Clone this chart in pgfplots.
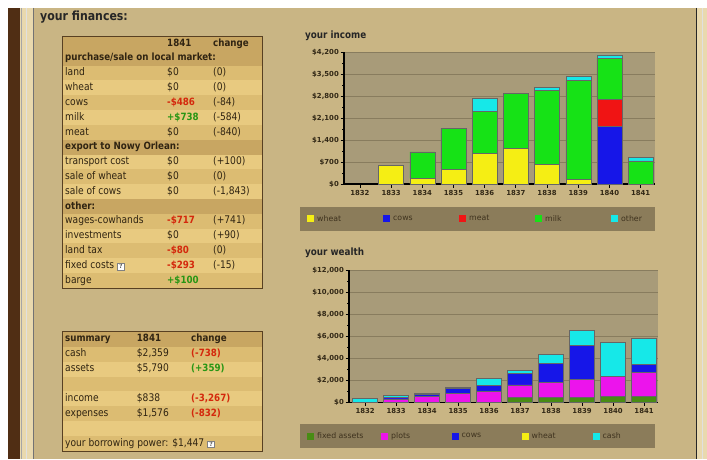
\documentclass[border=0pt]{standalone}
\usepackage{pgfplots}
\usepackage{pgfplotstable}
\pgfplotsset{compat=1.18}
\usepackage{fontspec}
\setmainfont{DejaVu Sans}[FakeStretch=0.87]
\newfontfamily\chartfont{DejaVu Sans}
\definecolor{pagebg}{RGB}{201,181,132}
\definecolor{plotbg}{RGB}{168,155,121}
\definecolor{gridc}{RGB}{136,124,94}
\definecolor{legbg}{RGB}{139,124,90}
\definecolor{legtxt}{RGB}{62,50,30}
\definecolor{hdr}{RGB}{200,166,98}
\definecolor{rowl}{RGB}{232,202,128}
\definecolor{rowd}{RGB}{220,188,114}
\definecolor{tborder}{RGB}{88,64,34}
\definecolor{txt}{RGB}{48,36,18}
\definecolor{tick}{RGB}{50,40,22}
\definecolor{negred}{RGB}{212,40,12}
\definecolor{posgreen}{RGB}{40,150,20}
\definecolor{cwheat}{RGB}{245,238,20}
\definecolor{ccows}{RGB}{22,22,232}
\definecolor{cmeat}{RGB}{240,20,20}
\definecolor{cmilk}{RGB}{22,226,22}
\definecolor{cother}{RGB}{22,232,232}
\definecolor{cfixed}{RGB}{72,140,20}
\definecolor{cplots}{RGB}{236,20,236}
\definecolor{darkstrip}{RGB}{80,46,20}
\definecolor{lightstrip}{RGB}{233,217,174}

\pgfplotstableread{
year wheat cows meat milk other
1832 0 0 0 0 0
1833 600 0 0 0 0
1834 180 0 0 840 0
1835 465 0 0 1315 0
1836 975 0 0 1335 415
1837 1135 0 0 1750 0
1838 625 0 0 2355 95
1839 140 0 0 3160 125
1840 0 1843 840 1322 100
1841 0 0 0 738 100
}\income

\pgfplotstableread{
year fixed plots cows wheat cash
1832 0 0 0 0 360
1833 0 300 180 0 170
1834 0 510 180 0 150
1835 0 815 450 0 60
1836 0 960 580 0 630
1837 420 1150 1030 0 270
1838 420 1420 1720 0 790
1839 420 1660 3110 0 1330
1840 510 1830 0 0 3100
1841 510 2200 720 0 2360
}\wealth

\pgfplotsset{
  sqlegend/.style={legend image code/.code={\fill[##1,draw=none] (0pt,-3.5pt) rectangle (7pt,3.5pt);}},
  mychart/.style={
    anchor=south west, scale only axis,
    ybar stacked, bar width=25pt,
    axis lines*=left,
    axis line style={black,line width=1.3pt},
    axis background/.style={fill=plotbg},
    ymajorgrids, major grid style={gridc,line width=0.7pt},
    tick align=outside, major tick length=3.5pt, minor tick length=2pt,
    tick style={black,line width=0.8pt},
    minor y tick num=1,
    scaled y ticks=false,
    xtick={1832,1833,1834,1835,1836,1837,1838,1839,1840,1841},
    xticklabels={1832,1833,1834,1835,1836,1837,1838,1839,1840,1841},
    yticklabel={\$\pgfmathprintnumber{\tick}},
    /pgf/number format/fixed, /pgf/number format/precision=0,
    /pgf/number format/1000 sep={,}, /pgf/number format/assume math mode=true,
    ticklabel style={font=\chartfont\fontsize{6.9}{7.5}\selectfont\bfseries,text=tick},
    yticklabel style={inner sep=1.5pt},
    xticklabel style={inner sep=2.5pt},
    every axis plot/.append style={draw=black!60,line width=0.5pt},
    every axis plot post/.append style={sqlegend},
    legend columns=5, legend cell align=left,
    legend style={anchor=north west, draw=none, fill=legbg,
      inner xsep=7pt, inner ysep=7pt,
      font=\chartfont\fontsize{7.8}{8}\selectfont, text=legtxt,
      /tikz/every odd column/.append style={column sep=2pt},
      nodes={inner sep=1pt}},
  }
}

\newcommand\qbox{{\setlength\fboxsep{0.6pt}\setlength\fboxrule{0.5pt}\raisebox{-0.5pt}{\fcolorbox{black!50}{white}{\makebox[5.5pt]{\chartfont\fontsize{6}{6}\selectfont\bfseries\color{black!60}?}}}}}
\newcommand\bft{\fontsize{10}{12}\selectfont\bfseries}
\newcommand\negv[1]{\textcolor{negred}{\bft #1}}
\newcommand\posv[1]{\textcolor{posgreen}{\bft #1}}
% table 1 row: index, fill, label, value, change
\newcommand\TA[5]{%
  \fill[#2] (62,{50.7+(#1-2)*14.83}) rectangle (262,{50.7+(#1-1)*14.83});
  \node[anchor=mid west] at (65,{50.7+(#1-1.5)*14.83}) {#3};
  \node[anchor=mid west] at (167,{50.7+(#1-1.5)*14.83}) {#4};
  \node[anchor=mid west] at (213,{50.7+(#1-1.5)*14.83}) {#5};}
\newcommand\TB[5]{%
  \fill[#2] (62,{346.7+(#1-1)*14.9}) rectangle (262,{346.7+#1*14.9});
  \node[anchor=mid west] at (65,{346.7+(#1-0.5)*14.9}) {#3};
  \node[anchor=mid west] at (136.7,{346.7+(#1-0.5)*14.9}) {#4};
  \node[anchor=mid west] at (191,{346.7+(#1-0.5)*14.9}) {#5};}

\begin{document}
\begin{tikzpicture}
\begin{scope}[x=1pt,y=-1pt,yshift=459pt,every node/.style={text=txt,inner sep=0pt,font=\fontsize{10.5}{12}\selectfont}]
  \fill[white] (0,0) rectangle (707,459);
  \fill[pagebg] (33,8) rectangle (697,459);
  \fill[darkstrip] (8,8) rectangle (20,459);
  \fill[lightstrip] (20,8) rectangle (33,459);
  \draw[black!35,line width=0.6pt] (21,8) -- (21,459);
  \draw[black!12,line width=0.8pt] (26,8) -- (26,459);
  \draw[black!55,line width=0.8pt] (33.5,8) -- (33.5,459);
  \fill[lightstrip] (697,8) rectangle (707,459);
  \draw[black!85,line width=1.2pt] (696.5,8) -- (696.5,459);
  \draw[black!12,line width=0.8pt] (702,8) -- (702,459);

  \node[anchor=mid west,font=\fontsize{12.6}{14}\selectfont\bfseries,text=black!85] at (40,18) {your finances:};
  \node[anchor=mid west,font=\fontsize{10.1}{11}\selectfont\bfseries,text=black!85] at (305,36) {your income};
  \node[anchor=mid west,font=\fontsize{10.1}{11}\selectfont\bfseries,text=black!85] at (305,253) {your wealth};

  % table 1
  \fill[hdr] (62,36) rectangle (262,50.7);
  \node[anchor=mid west,font=\bft] at (167,43.4) {1841};
  \node[anchor=mid west,font=\bft] at (213,43.4) {change};
  \TA{2}{hdr}{\bft purchase/sale on local market:}{}{}
  \TA{3}{rowd}{land}{\$0}{(0)}
  \TA{4}{rowl}{wheat}{\$0}{(0)}
  \TA{5}{rowd}{cows}{\negv{-\$486}}{(-84)}
  \TA{6}{rowl}{milk}{\posv{+\$738}}{(-584)}
  \TA{7}{rowd}{meat}{\$0}{(-840)}
  \TA{8}{hdr}{\bft export to Nowy Orlean:}{}{}
  \TA{9}{rowl}{transport cost}{\$0}{(+100)}
  \TA{10}{rowd}{sale of wheat}{\$0}{(0)}
  \TA{11}{rowl}{sale of cows}{\$0}{(-1,843)}
  \TA{12}{hdr}{\bft other:}{}{}
  \TA{13}{rowd}{wages-cowhands}{\negv{-\$717}}{(+741)}
  \TA{14}{rowl}{investments}{\$0}{(+90)}
  \TA{15}{rowd}{land tax}{\negv{-\$80}}{(0)}
  \TA{16}{rowl}{fixed costs \qbox}{\negv{-\$293}}{(-15)}
  \TA{17}{rowd}{barge}{\posv{+\$100}}{}
  \draw[tborder,line width=0.9pt] (62,36) rectangle (262,288);

  % table 2
  \fill[hdr] (62,331) rectangle (262,346.7);
  \node[anchor=mid west,font=\bft] at (65,338.8) {summary};
  \node[anchor=mid west,font=\bft] at (136.7,338.8) {1841};
  \node[anchor=mid west,font=\bft] at (191,338.8) {change};
  \TB{1}{rowd}{cash}{\$2,359}{\negv{(-738)}}
  \TB{2}{rowl}{assets}{\$5,790}{\posv{(+359)}}
  \TB{3}{rowd}{}{}{}
  \TB{4}{rowl}{income}{\$838}{\negv{(-3,267)}}
  \TB{5}{rowd}{expenses}{\$1,576}{\negv{(-832)}}
  \TB{6}{rowl}{}{}{}
  \TB{7}{rowd}{your borrowing power: \$1,447 \qbox}{}{}
  \draw[tborder,line width=0.9pt] (62,331) rectangle (262,451);
\end{scope}

% income chart
\begin{axis}[mychart, at={(344pt,275pt)}, width=311pt, height=132pt,
  xmin=1831.49, xmax=1841.46, ymin=0, ymax=4200,
  ytick={0,700,1400,2100,2800,3500,4200},
  legend style={at={(-0.1415,-0.174)}}]
\addplot[fill=cwheat] table[x=year,y=wheat]{\income};
\addplot[fill=ccows] table[x=year,y=cows]{\income};
\addplot[fill=cmeat] table[x=year,y=meat]{\income};
\addplot[fill=cmilk] table[x=year,y=milk]{\income};
\addplot[fill=cother] table[x=year,y=other]{\income};
\addlegendentry{\makebox[65pt][l]{wheat}}
\addlegendentry{\makebox[65pt][l]{cows}}
\addlegendentry{\makebox[65pt][l]{meat}}
\addlegendentry{\makebox[65pt][l]{milk}}
\addlegendentry{\makebox[26pt][l]{other}}
\end{axis}

% wealth chart
\begin{axis}[mychart, at={(349pt,56.7pt)}, width=309pt, height=132.3pt,
  xmin=1831.48, xmax=1841.45, ymin=0, ymax=12000,
  ytick={0,2000,4000,6000,8000,10000,12000},
  legend style={at={(-0.1586,-0.166)}}]
\addplot[fill=cfixed] table[x=year,y=fixed]{\wealth};
\addplot[fill=cplots] table[x=year,y=plots]{\wealth};
\addplot[fill=ccows] table[x=year,y=cows]{\wealth};
\addplot[fill=cwheat] table[x=year,y=wheat]{\wealth};
\addplot[fill=cother] table[x=year,y=cash]{\wealth};
\addlegendentry{\makebox[63pt][l]{fixed assets}}
\addlegendentry{\makebox[59.5pt][l]{plots}}
\addlegendentry{\makebox[59pt][l]{cows}}
\addlegendentry{\makebox[60pt][l]{wheat}}
\addlegendentry{\makebox[44pt][l]{cash}}
\end{axis}
\pgfresetboundingbox
\path[use as bounding box] (0,0) rectangle (707pt,459pt);
\end{tikzpicture}
\end{document}
